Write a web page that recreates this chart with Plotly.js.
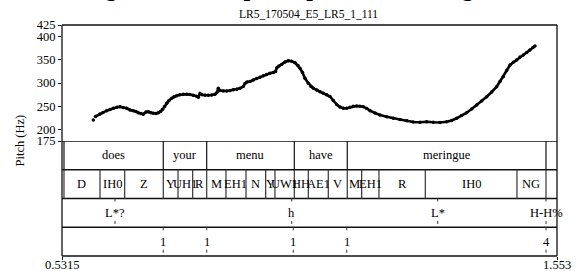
<!DOCTYPE html>
<html>
<head>
<meta charset="utf-8">
<script src="https://cdn.plot.ly/plotly-3.0.1.min.js"></script>
<style>html,body{margin:0;padding:0;background:#fff;}#chart{width:576px;height:271px;}</style>
</head>
<body>
<div id="chart"></div>
<script>
// ---- data ----
const figTitle = "Figure 6: Example of pitch for meringue";
const fileName = "LR5_170504_E5_LR5_1_111";
const xRange = [0.5315, 1.553];
const xTickText = ["0.5315", "1.553"];
const yRange = [175, 425];
const yTickVals = [175, 200, 250, 300, 350, 400, 425];

const pitchTimes = [0.5961, null,
 0.6006,0.6099,0.6161,0.6237,0.6306,0.6374,0.6450,0.6512,0.6574,0.6650,0.6718,0.6786,0.6842,0.6889,0.6945,0.6993,
 0.7048,0.7096,0.7152,0.7199,0.7255,0.7302,0.7348,0.7389,0.7430,0.7476,0.7523,0.7579,0.7626,0.7682,0.7750,0.7818,
 0.7888,0.7956,0.8024,0.8095,0.8128,0.8163,0.8204,0.8266,0.8334,0.8404,0.8472,0.8513,0.8540,0.8575,0.8644,0.8714,
 0.8782,0.8850,0.8920,0.8988,0.9056,0.9091,0.9133,0.9194,0.9263,0.9333,0.9401,0.9469,0.9539,0.9607,0.9675,0.9721,
 0.9752,0.9793,0.9849,0.9917,0.9985,1.0055,1.0123,1.0185,1.0226,1.0278,1.0329,1.0398,1.0453,1.0501,1.0571,1.0639,
 1.0707,1.0777,1.0845,1.0913,1.0984,1.1052,1.1120,1.1190,1.1258,1.1326,1.1396,1.1464,1.1533,1.1603,1.1671,1.1774,
 1.1877,1.2015,1.2152,1.2290,1.2428,1.2564,1.2703,1.2841,1.2977,1.3115,1.3254,1.3357,1.3460,1.3563,1.3666,1.3769,
 1.3873,1.3976,1.4079,1.4182,1.4285,1.4353,1.4421,1.4492,1.4560,1.4628,1.4698,1.4766,1.4834,1.4904,1.4972,1.5034,1.5076];
const pitchHz = [220.3, null,
 227.8,233.2,236.4,240.3,242.9,245.5,247.9,248.9,247.2,245.5,241.8,240.3,238.6,236.0,234.3,232.6,
 237.5,238.2,235.8,234.7,234.3,236.0,238.6,242.9,249.4,256.3,262.3,267.0,270.3,272.6,274.6,275.7,
 275.7,275.2,273.7,271.3,269.2,277.4,274.6,273.5,273.5,274.1,275.7,279.5,288.6,283.8,282.8,282.8,
 283.8,285.4,286.6,288.6,292.5,298.9,302.2,303.2,306.5,309.7,312.5,315.5,318.3,320.9,322.6,324.8,
 333.4,336.6,339.9,345.3,348.1,346.8,343.8,337.7,331.7,322.6,310.1,299.4,292.5,288.6,284.9,281.3,
 278.0,274.6,270.9,262.3,253.7,248.3,245.5,245.5,247.6,249.8,250.4,249.8,248.9,245.1,240.3,235.4,
 231.0,227.4,223.9,221.4,218.8,216.0,215.5,216.6,215.3,214.9,216.6,219.2,223.9,230.0,236.0,244.0,
 252.6,261.2,270.5,280.6,292.0,303.2,313.6,326.9,338.8,344.6,349.6,356.0,360.3,365.7,371.1,376.5,379.7];

const wordLabels = ["does", "your", "menu", "have", "meringue"];
const wordBounds = [0.5356, 0.7405, 0.8301, 1.0109, 1.1202, 1.5303];

const phoneLabels = ["D","IH0","Z","Y","UH1","R","M","EH1","N","Y","UW1","HH","AE1","V","M","EH1","R","IH0","NG"];
const phoneBounds = [0.5356,0.6099,0.6609,0.7405,0.7709,0.8012,0.8301,0.8699,0.9112,0.9518,0.9710,1.0109,
 1.0398,1.0810,1.1202,1.1499,1.1856,1.2812,1.4704,1.5303];

const toneLabels = ["L*?", "h", "L*", "H-H%"];
const toneTimes = [0.6409, 1.0055, 1.3068, 1.5303];

const breakLabels = ["1", "1", "1", "1", "4"];
const breakTimes = [0.7405, 0.8301, 1.0088, 1.1190, 1.5303];

// ---- drawing ----
const FONT = "Liberation Serif, Times New Roman, serif";
const LC = "#111";
const shapes = [];
const annotations = [];
function vline(x, y0, y1, opts) {
  shapes.push(Object.assign({type:"line", xref:"x", yref:"y2", x0:x, x1:x, y0:y0, y1:y1,
    line:{color:LC, width:1.2}}, opts || {}));
}
function label(x, y, t, xref, yref, size) {
  annotations.push({x:x, y:y, xref:xref||"x", yref:yref||"y2", text:t, showarrow:false,
    font:{family:FONT, size:size||12.5, color:"#000"}, xanchor:"center", yanchor:"middle"});
}
// frame
[[0,0,0,1],[1,1,0,1],[0,1,1,1],[0,1,0,0]].forEach(function(s){
  shapes.push({type:"line", xref:"paper", yref:"paper", x0:s[0], x1:s[1], y0:s[2], y1:s[3],
    line:{color:LC, width:1.3}});
});
// tier separators
[4,3,2,1].forEach(function(y){
  shapes.push({type:"line", xref:"paper", yref:"y2", x0:0, x1:1, y0:y, y1:y, line:{color:LC, width:1.3}});
});
// words
wordBounds.forEach(function(b){ vline(b, 3, 4); });
wordLabels.forEach(function(w, i){ label((wordBounds[i]+wordBounds[i+1])/2, 3.5, w); });
// phones
phoneBounds.forEach(function(b){ vline(b, 2, 3, {line:{color:"#333", width:1.2}}); });
phoneLabels.forEach(function(p, i){ label((phoneBounds[i]+phoneBounds[i+1])/2, 2.5, p); });
// tones
toneTimes.forEach(function(t, i){
  vline(t, 2, 1.8, {line:{color:"#333", width:1, dash:"dot"}});
  vline(t, 1.22, 1, {line:{color:"#333", width:1, dash:"dot"}});
  label(t, 1.5, toneLabels[i]);
});
// breaks
breakTimes.forEach(function(t, i){
  vline(t, 1, 0.8, {line:{color:"#333", width:1, dash:"dot"}});
  vline(t, 0.22, 0, {line:{color:"#333", width:1, dash:"dot"}});
  label(t, 0.5, breakLabels[i]);
});
// x-axis end labels
xRange.forEach(function(v, i){
  annotations.push({x:v, y:(256-265)/231, xref:"x", yref:"paper", text:xTickText[i], showarrow:false,
    font:{family:FONT, size:12.5, color:"#000"}, xanchor:"center", yanchor:"middle"});
});
// titles
annotations.push({x:(291-62)/495, y:(256+12)/231, xref:"paper", yref:"paper", text:"<b>"+figTitle+"</b>",
  showarrow:false, font:{family:FONT, size:24, color:"#000"}, xanchor:"center", yanchor:"middle"});
annotations.push({x:(308-62)/495, y:(256-14)/231, xref:"paper", yref:"paper", text:fileName,
  showarrow:false, font:{family:FONT, size:11.5, color:"#000"}, xanchor:"center", yanchor:"middle"});
annotations.push({x:(19-62)/495, y:(256-140.5)/231, xref:"paper", yref:"paper", text:"Pitch (Hz)",
  showarrow:false, textangle:-90, font:{family:FONT, size:12.5, color:"#000"}, xanchor:"center", yanchor:"middle"});

const trace = {x:pitchTimes, y:pitchHz, type:"scatter", mode:"lines+markers", xaxis:"x", yaxis:"y",
  line:{color:"#000", width:2.6}, marker:{color:"#000", size:3.5}, connectgaps:false, hoverinfo:"skip"};

const layout = {
  width:576, height:271,
  margin:{l:62, r:19, t:25, b:15, pad:0},
  paper_bgcolor:"#fff", plot_bgcolor:"#fff",
  showlegend:false,
  font:{family:FONT, size:12.5, color:"#000"},
  xaxis:{range:xRange, anchor:"y2", showgrid:false, zeroline:false, showline:false,
    tickvals:xRange, showticklabels:false, ticks:"outside", ticklen:3, tickcolor:LC},
  yaxis:{domain:[115/231, 1], range:yRange, anchor:"x", showgrid:false, zeroline:false, showline:false,
    tickvals:yTickVals, ticks:"outside", ticklen:3, tickcolor:LC,
    tickfont:{family:FONT, size:12.5, color:"#000"}},
  yaxis2:{domain:[0, 115/231], range:[0,4], anchor:"x", showgrid:false, zeroline:false, showline:false,
    showticklabels:false, ticks:""},
  shapes:shapes,
  annotations:annotations
};
Plotly.newPlot("chart", [trace], layout, {staticPlot:true, displayModeBar:false});
</script>
</body>
</html>
